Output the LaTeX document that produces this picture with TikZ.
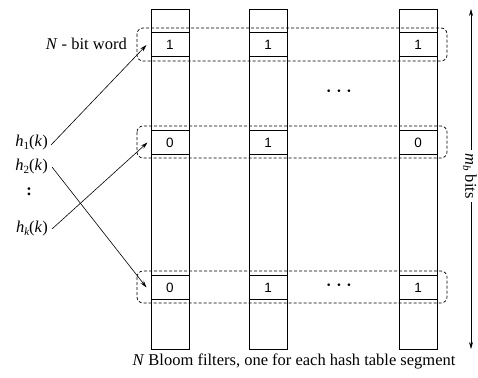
\documentclass[tikz,border=0pt]{standalone}
\usepackage{fontspec}
\setmainfont{Liberation Serif}
\newfontfamily\cellfont{Liberation Sans}
\usetikzlibrary{arrows.meta}
\tikzset{
  column/.style={draw, line width=0.8pt, minimum width=38pt, minimum height=340pt, inner sep=0pt},
  bitcell/.style={draw, line width=1pt, minimum width=38pt, minimum height=24pt, inner sep=0pt,
                  font=\cellfont\fontsize{13.5}{15}\selectfont},
  wordbox/.style={draw, line width=0.7pt, dash pattern=on 3pt off 2pt, rounded corners=6pt},
  label/.style={font=\fontsize{16.5}{19}\selectfont, inner sep=1pt},
  hasharrow/.style={-{Stealth[length=7pt,width=4pt]}, line width=0.6pt},
  dots/.style={font=\fontsize{16}{18}\selectfont\bfseries, inner sep=0pt},
}
\begin{document}
\begin{tikzpicture}[x=1pt, y=-1pt]
\useasboundingbox (0,0) rectangle (478,377);

% the N Bloom filters (columns)
\node[column] (col1) at (170,179) {};
\node[column] (col2) at (268,179) {};
\node[column] (col3) at (418,179) {};

% dashed frames grouping the N-bit words
\draw[wordbox] (137,28) rectangle (447,61);
\draw[wordbox] (137,126) rectangle (447,158);
\draw[wordbox] (137,271) rectangle (447,303);

% bit cells
\node[bitcell] (c11) at (170,45) {1};
\node[bitcell] (c12) at (268,45) {1};
\node[bitcell] (c13) at (418,45) {1};
\node[bitcell] (c21) at (170,142.5) {0};
\node[bitcell] (c22) at (268,142.5) {1};
\node[bitcell] (c23) at (418,142.5) {0};
\node[bitcell] (c31) at (170,287.5) {0};
\node[bitcell] (c32) at (268,287.5) {1};
\node[bitcell] (c33) at (418,287.5) {1};

% ellipses
\node[dots] (dotsA) at (339,93) {·\hspace{0.3em}·\hspace{0.3em}·};
\node[dots] (dotsB) at (339,287) {·\hspace{0.3em}·\hspace{0.3em}·};

% labels
\node[label, anchor=east] (word) at (128,44) {\textit{N} - bit word};
\node[label, anchor=east] (h1) at (49,143) {\textit{h}\raisebox{-0.3ex}{\fontsize{11}{12}\selectfont 1}(\textit{k})};
\node[label, anchor=east] (h2) at (49,167) {\textit{h}\raisebox{-0.3ex}{\fontsize{11}{12}\selectfont 2}(\textit{k})};
\node[label] (vdots) at (29,192) {\textbf{:}};
\node[label, anchor=east] (hk) at (49,229) {\textit{h}\raisebox{-0.3ex}{\fontsize{11}{12}\selectfont\itshape k}(\textit{k})};

% arrow tips just left of the cells
\coordinate (t1) at ([xshift=-4pt]c11.west);
\coordinate (t2) at ([xshift=-3pt]c21.west);
\coordinate (t3) at ([xshift=-4pt]c31.west);

\draw[hasharrow] ([xshift=2pt,yshift=-2pt]h1.east) -- (t1);
\draw[hasharrow] ([xshift=3pt]h2.east) -- (t3);
\draw[hasharrow] ([xshift=3pt]hk.east) -- (t2);

% height of the filters
\node[label, fill=white, inner sep=3pt] (mb) at (470,176)
  {\rotatebox{-90}{\textit{m}\raisebox{-0.3ex}{\fontsize{11}{12}\selectfont\itshape b} bits}};
\coordinate (mtop) at (471,9);
\coordinate (mbot) at (471,349);
\draw[hasharrow] (mb.north -| mtop) -- (mtop);
\draw[hasharrow] (mb.south -| mbot) -- (mbot);

% caption
\node[label] (caption) at (294,361) {\textit{N} Bloom filters, one for each hash table segment};
\end{tikzpicture}
\end{document}
